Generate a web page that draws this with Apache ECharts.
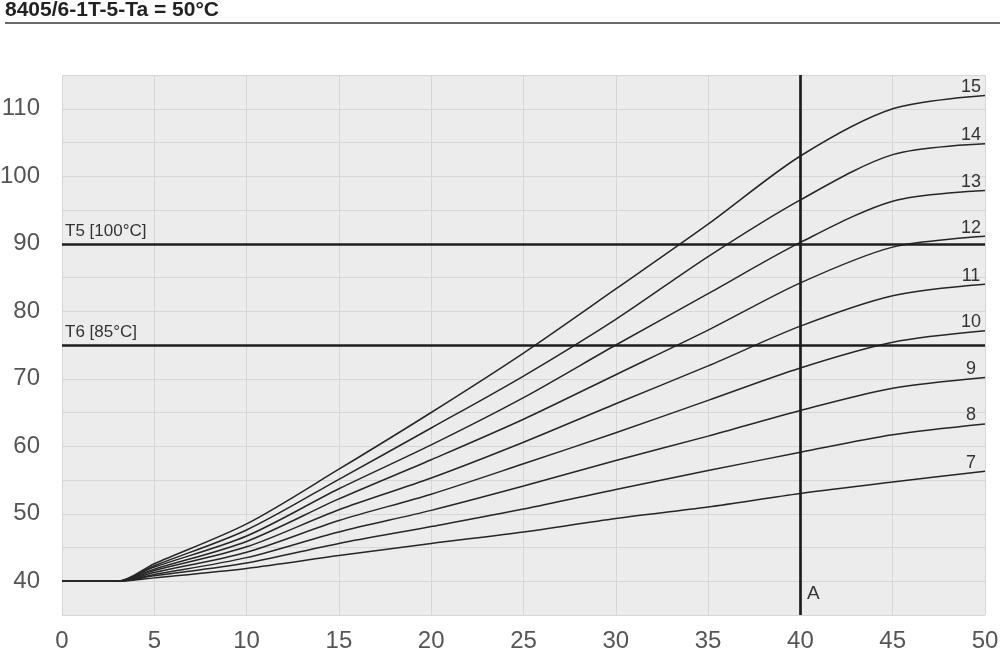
<!DOCTYPE html>
<html>
<head>
<meta charset="utf-8">
<script src="https://cdn.jsdelivr.net/npm/echarts@6/dist/echarts.min.js"></script>
<style>
  html, body { margin: 0; padding: 0; background: #ffffff; }
  #chart { width: 1000px; height: 656px; }
</style>
</head>
<body>
<div id="chart"></div>
<script>
// ---- data ----
const titleText = '8405/6-1T-5-Ta = 50°C';
const xs = [0, 3, 5, 10, 15, 20, 25, 30, 35, 40, 45, 50];
const curveNames = ['7', '8', '9', '10', '11', '12', '13', '14', '15'];
const c7  = [40, 40, 40.5, 41.9, 43.8, 45.6, 47.3, 49.3, 51.0, 53.0, 54.7, 56.3];
const c8  = [40, 40, 40.8, 42.7, 45.6, 48.1, 50.7, 53.6, 56.4, 59.1, 61.7, 63.3];
const c9  = [40, 40, 41.0, 43.5, 47.3, 50.5, 54.1, 57.9, 61.5, 65.3, 68.6, 70.2];
const c10 = [40, 40, 41.3, 44.3, 49.0, 52.9, 57.4, 62.0, 66.8, 71.6, 75.4, 77.1];
const c11 = [40, 40, 41.6, 45.1, 50.6, 55.3, 60.6, 66.3, 71.9, 77.8, 82.3, 84.0];
const c12 = [40, 40, 41.8, 45.9, 52.2, 58.0, 64.0, 70.6, 77.2, 84.2, 89.5, 91.1];
const c13 = [40, 40, 42.1, 46.7, 53.7, 60.2, 67.2, 75.0, 82.6, 90.2, 96.3, 97.9];
const c14 = [40, 40, 42.3, 47.6, 55.1, 62.7, 70.4, 78.8, 88.1, 96.5, 103.2, 104.8];
const c15 = [40, 40, 42.6, 48.5, 56.6, 65.0, 73.8, 83.3, 92.9, 103.0, 110.0, 111.95];
const curveValues = [c7, c8, c9, c10, c11, c12, c13, c14, c15];
const limitLines = [{ name: 'T5 [100°C]', value: 90 }, { name: 'T6 [85°C]', value: 75 }];
const markerA = { name: 'A', x: 40, labelY: 38.2 };
const xTicks = { min: 0, max: 50, step: 5 };
const yTicks = { min: 35, max: 115, step: 5, labelStep: 10 };

// ---- chart ----
const FONT = '"Liberation Sans", Arial, sans-serif';
const chart = echarts.init(document.getElementById('chart'), null, { renderer: 'canvas' });

const series = curveValues.map((vals, idx) => ({
  type: 'line',
  name: curveNames[idx],
  data: xs.map((x, i) => [x, vals[i]]),
  smooth: 0.3,
  symbol: 'none',
  silent: true,
  animation: false,
  z: 3,
  lineStyle: { color: '#262626', width: 1.5 },
  markPoint: {
    symbol: 'circle',
    symbolSize: 1,
    silent: true,
    animation: false,
    itemStyle: { color: 'rgba(0,0,0,0)' },
    label: {
      show: true,
      position: 'top',
      distance: 0,
      offset: [-14, 1],
      formatter: curveNames[idx],
      fontFamily: FONT,
      fontSize: 18,
      color: '#333333'
    },
    data: [{ coord: [xs[xs.length - 1], vals[vals.length - 1]] }]
  }
}));

series.push({
  type: 'line',
  name: 'refs',
  data: [],
  silent: true,
  animation: false,
  z: 4,
  markLine: {
    silent: true,
    animation: false,
    symbol: ['none', 'none'],
    lineStyle: { color: '#1e1e1e', width: 2.7, type: 'solid' },
    label: { fontFamily: FONT, fontSize: 17, color: '#333333' },
    data: limitLines.map(l => ({
      yAxis: l.value,
      label: { show: true, position: 'insideStartTop', formatter: l.name, distance: [3, 4] }
    })).concat([{ xAxis: markerA.x, label: { show: false } }])
  },
  markPoint: {
    symbol: 'circle',
    symbolSize: 1,
    silent: true,
    animation: false,
    itemStyle: { color: 'rgba(0,0,0,0)' },
    label: {
      show: true,
      position: 'right',
      distance: 6,
      formatter: markerA.name,
      fontFamily: FONT,
      fontSize: 19,
      color: '#333333'
    },
    data: [{ coord: [markerA.x, markerA.labelY] }]
  }
});

chart.setOption({
  animation: false,
  backgroundColor: '#ffffff',
  textStyle: { fontFamily: FONT },
  grid: {
    left: 62, right: 15, top: 75, bottom: 41,
    containLabel: false,
    outerBoundsMode: 'none',
    show: true, backgroundColor: '#ececec', borderWidth: 0
  },
  graphic: [
    {
      type: 'text', left: 5, top: 0, silent: true,
      style: { text: titleText, fontFamily: FONT, fontSize: 21, fontWeight: 'bold', fill: '#222222' }
    },
    {
      type: 'line', silent: true,
      shape: { x1: 5, y1: 23, x2: 1000, y2: 23 },
      style: { stroke: '#3a3a3a', lineWidth: 1.6 }
    }
  ],
  xAxis: {
    type: 'value',
    min: xTicks.min, max: xTicks.max, interval: xTicks.step,
    axisLine: { show: false },
    axisTick: { show: false },
    axisLabel: { fontFamily: FONT, fontSize: 24, color: '#555555', margin: 14 },
    splitLine: { show: true, lineStyle: { color: '#d6d6d6', width: 1 } }
  },
  yAxis: {
    type: 'value',
    min: yTicks.min, max: yTicks.max, interval: yTicks.step,
    axisLine: { show: false },
    axisTick: { show: false },
    axisLabel: {
      fontFamily: FONT, fontSize: 24, color: '#555555', margin: 22,
      formatter: v => (v % yTicks.labelStep === 0 ? String(v) : '')
    },
    splitLine: { show: true, lineStyle: { color: '#d6d6d6', width: 1 } }
  },
  series: series
});
</script>
</body>
</html>
